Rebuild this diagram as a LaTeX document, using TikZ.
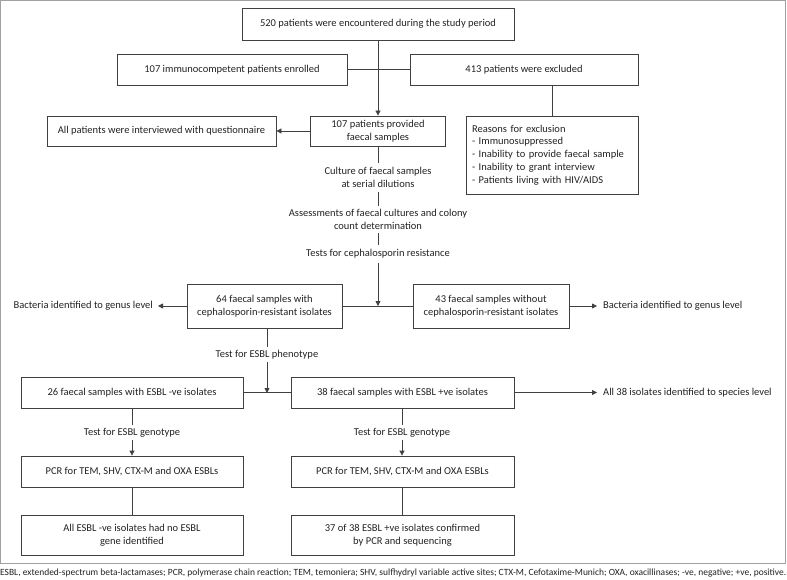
\documentclass[tikz,border=0pt]{standalone}
\usepackage{fontspec}
\setmainfont{Carlito}
\usetikzlibrary{arrows.meta}
\definecolor{ln}{HTML}{404040}
\definecolor{tx}{HTML}{222222}
\definecolor{fr}{HTML}{A0A0A0}
\begin{document}
\begin{tikzpicture}[x=1pt,y=-1pt,
  box/.style={draw=ln,line width=0.8pt,inner sep=0pt,text=tx,align=center,
    font=\fontsize{10.5}{13}\selectfont},
  lbl/.style={inner sep=0pt,text=tx,align=center,font=\fontsize{10.5}{13}\selectfont},
  conn/.style={draw=ln,line width=0.8pt},
  arr/.style={conn,-{Triangle[length=5pt,width=5pt]}}]
\useasboundingbox (0,0) rectangle (787,580);
\draw[fr,line width=1pt] (0.5,0.5) rectangle (785.5,563);
% boxes
\node[box,minimum width=272pt,minimum height=32pt] (top) at (378,24) {520 patients were encountered during the study period};
\node[box,minimum width=230pt,minimum height=31pt] (imm) at (232,69.5) {107 immunocompetent patients enrolled};
\node[box,minimum width=228pt,minimum height=31pt] (excl) at (524,69.5) {413 patients were excluded};
\node[box,minimum width=135pt,minimum height=30pt] (prov) at (378,131) {107 patients provided\\faecal samples};
\node[box,minimum width=229pt,minimum height=30pt] (interv) at (161.5,131) {All patients were interviewed with questionnaire};
\node[box,minimum width=172pt,minimum height=78pt,align=left,text width=160pt,
  font=\fontsize{10.5}{12.8}\selectfont] (reasons) at (552,155) {Reasons for exclusion\\- Immunosuppressed\\- Inability to provide faecal sample\\- Inability to grant interview\\- Patients living with HIV/AIDS};
\node[lbl,minimum height=29pt] (t1) at (378,177.5) {Culture of faecal samples\\at serial dilutions};
\node[lbl,minimum height=27pt] (t2) at (378,219.5) {Assessments of faecal cultures and colony\\count determination};
\node[lbl,minimum height=18pt] (t3) at (378,254) {Tests for cephalosporin resistance};
\node[box,minimum width=155pt,minimum height=44pt] (b64) at (264.5,306) {64 faecal samples with\\cephalosporin-resistant isolates};
\node[box,minimum width=156pt,minimum height=44pt] (b43) at (491,306) {43 faecal samples without\\cephalosporin-resistant isolates};
\node[lbl,anchor=east,inner xsep=5pt] (gl) at (158,306) {Bacteria identified to genus level};
\node[lbl,anchor=west,inner xsep=6pt] (gr) at (597,306) {Bacteria identified to genus level};
\coordinate (j1) at (378,306);
\coordinate (p64) at (267,328);
\node[lbl,minimum height=15pt] (t4) at (267,354.5) {Test for ESBL phenotype};
\coordinate (j2) at (267,393);
\node[box,minimum width=222pt,minimum height=31pt] (b26) at (132,392.5) {26 faecal samples with ESBL -ve isolates};
\node[box,minimum width=223pt,minimum height=31pt] (b38) at (402.5,392.5) {38 faecal samples with ESBL +ve isolates};
\node[lbl,anchor=west,inner xsep=6pt] (sp) at (597,392.5) {All 38 isolates identified to species level};
\node[lbl,minimum height=14pt] (t5) at (132,432.5) {Test for ESBL genotype};
\node[lbl,minimum height=14pt] (t6) at (402,432.5) {Test for ESBL genotype};
\node[box,minimum width=222pt,minimum height=31pt] (pcrL) at (132,471.5) {PCR for TEM, SHV, CTX-M and OXA ESBLs};
\node[box,minimum width=223pt,minimum height=31pt] (pcrR) at (402.5,471.5) {PCR for TEM, SHV, CTX-M and OXA ESBLs};
\node[box,minimum width=222pt,minimum height=40pt] (finL) at (132,535) {All ESBL -ve isolates had no ESBL\\gene identified};
\node[box,minimum width=223pt,minimum height=40pt] (finR) at (402.5,535) {37 of 38 ESBL +ve isolates confirmed\\by PCR and sequencing};
\node[inner sep=0pt,anchor=west,text=tx] (foot) at (0,573) {\resizebox{786pt}{!}{\fontsize{8}{9}\selectfont ESBL, extended-spectrum beta-lactamases; PCR, polymerase chain reaction; TEM, temoniera; SHV, sulfhydryl variable active sites; CTX-M, Cefotaxime-Munich; OXA, oxacillinases; -ve, negative; +ve, positive.}};
% connectors
\draw[arr] (top.south) -- (prov.north);
\draw[conn] (imm.east) -- (excl.west);
\draw[conn] (reasons.north |- excl.south) -- (reasons.north);
\draw[arr] (prov.west) -- (interv.east);
\draw[conn] (prov.south) -- (t1.north);
\draw[conn] (t1.south) -- (t2.north);
\draw[conn] (t2.south) -- (t3.north);
\draw[arr] (t3.south) -- (j1);
\draw[conn] (b64.east) -- (b43.west);
\draw[arr] (b64.west) -- (gl.east);
\draw[arr] (b43.east) -- (gr.west);
\draw[conn] (p64) -- (t4.north);
\draw[arr] (t4.south) -- (j2);
\draw[conn] (b26.east) -- (b38.west);
\draw[arr] (b38.east) -- (sp.west);
\draw[conn] (b26.south) -- (t5.north);
\draw[arr] (t5.south) -- (pcrL.north);
\draw[conn] (b38.south -| t6.north) -- (t6.north);
\draw[arr] (t6.south) -- (t6.south |- pcrR.north);
\draw[conn] (pcrL.south) -- (finL.north);
\draw[conn] (pcrR.south -| t6.south) -- (finR.north -| t6.south);
\end{tikzpicture}
\end{document}
